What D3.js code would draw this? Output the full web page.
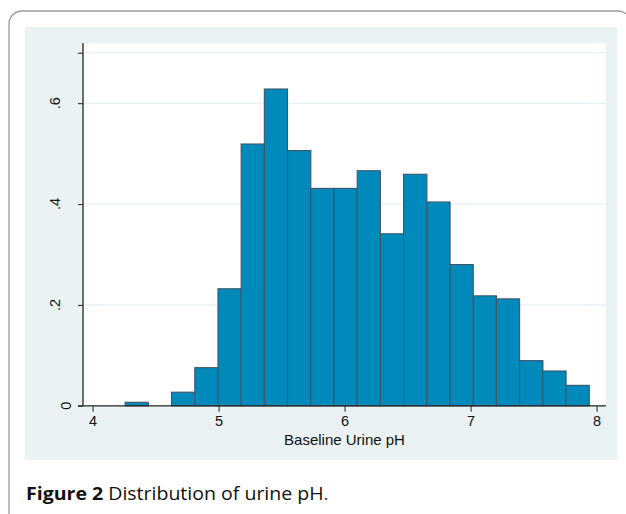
<!DOCTYPE html>
<html><head><meta charset="utf-8">
<script src="https://cdn.jsdelivr.net/npm/d3@7/dist/d3.min.js"></script>
<style>body{margin:0;background:#fff;}svg{display:block;}</style>
</head><body>
<svg id="c" width="626" height="514"></svg>
<script>
// Histogram bin lower edges (pH) and the upper edge of the last bin
const binEdges = [4.258,4.442,4.626,4.811,4.995,5.179,5.363,5.547,5.732,5.916,6.100,6.284,6.468,6.653,6.837,7.021,7.205,7.389,7.574,7.758,7.942];
// Density per bin
const density = [0.007,0,0.027,0.0756,0.232,0.519,0.628,0.506,0.431,0.431,0.466,0.341,0.459,0.404,0.28,0.218,0.212,0.0895,0.069,0.0406];
const xTicks = [4,5,6,7,8];
const yTicks = [0,0.2,0.4,0.6,0.7];
const yTickLabels = ["0",".2",".4",".6",""];
const xTitle = "Baseline Urine pH";
const captionBold = "Figure 2";
const captionText = " Distribution of urine pH";

const svg = d3.select("#c");
const x = d3.scaleLinear().domain([4,8]).range([92.6,596.6]);
const y = d3.scaleLinear().domain([0,0.7]).range([405.8,52.7]);
const plotL = 83, plotR = 606, plotT = 43, plotB = y(0);

// outer frame
svg.append("rect").attr("x",9).attr("y",11).attr("width",622).attr("height",540).attr("rx",13)
  .attr("fill","none").attr("stroke","#9a9a9a").attr("stroke-width",1.3);
// panel
svg.append("rect").attr("x",25).attr("y",27).attr("width",592).attr("height",433).attr("fill","#eaf2f3");
// plot region
svg.append("rect").attr("x",plotL).attr("y",plotT).attr("width",plotR-plotL).attr("height",plotB-plotT).attr("fill","#ffffff");
// gridlines
svg.append("g").selectAll("line").data(yTicks.filter(d=>d>0)).join("line")
  .attr("x1",plotL).attr("x2",plotR).attr("y1",d=>y(d)).attr("y2",d=>y(d))
  .attr("stroke","#eaf2f3").attr("stroke-width",1.5);

// bars
const bins = density.map((v,i)=>({x0:binEdges[i],x1:binEdges[i+1],v}));
svg.append("g").selectAll("rect").data(bins.filter(b=>b.v>0)).join("rect")
  .attr("x",b=>x(b.x0)).attr("width",b=>x(b.x1)-x(b.x0))
  .attr("y",b=>y(b.v)).attr("height",b=>y(0)-y(b.v))
  .attr("fill","#008abb").attr("stroke","#3e5668").attr("stroke-width",1.1);

// x axis
const xAxis = d3.axisBottom(x).tickValues(xTicks).tickSize(6).tickPadding(4).tickFormat(d3.format("d"));
const gx = svg.append("g").attr("transform",`translate(0,${plotB})`).call(xAxis);
gx.select(".domain").attr("d",`M${plotL-5},0H${plotR}`).attr("stroke","#222").attr("stroke-width",1.3);
gx.selectAll(".tick line").attr("stroke","#333").attr("stroke-width",1.1);
gx.selectAll(".tick text").attr("font-family","'Liberation Sans',Arial,sans-serif").attr("font-size","14.5px").attr("fill","#111").attr("dy","0.68em");

// y axis
const yAxis = d3.axisLeft(y).tickValues(yTicks).tickSize(5).tickFormat(()=>"");
const gy = svg.append("g").attr("transform",`translate(${plotL},0)`).call(yAxis);
gy.select(".domain").attr("d",`M0,${plotT}V${plotB}`).attr("stroke","#222").attr("stroke-width",1.3);
gy.selectAll(".tick line").attr("stroke","#333").attr("stroke-width",1.1);
svg.append("g").selectAll("text").data(yTicks).join("text")
  .attr("transform",d=>`translate(${d===0?71:59.5},${y(d)}) rotate(-90)`)
  .attr("text-anchor","middle")
  .attr("font-family","'Liberation Sans',Arial,sans-serif").attr("font-size","14.5px").attr("fill","#111")
  .text((d,i)=>yTickLabels[i]);

// x title
svg.append("text").attr("x",(plotL+plotR)/2).attr("y",445).attr("text-anchor","middle")
  .attr("font-family","'Liberation Sans',Arial,sans-serif").attr("font-size","15px").attr("fill","#111")
  .text(xTitle);

// caption
const capG = svg.append("g");
const cap = capG.append("text").attr("x",0).attr("y",0)
  .attr("font-family","'Open Sans',sans-serif").attr("font-size","18px").attr("fill","#111");
cap.append("tspan").attr("font-weight","bold").text(captionBold);
cap.append("tspan").text(captionText);
cap.append("tspan").attr("fill","#444").text(".");
const w = cap.node().getComputedTextLength();
capG.attr("transform",`translate(26,500) scale(${303/w},1)`);
</script>
</body></html>
